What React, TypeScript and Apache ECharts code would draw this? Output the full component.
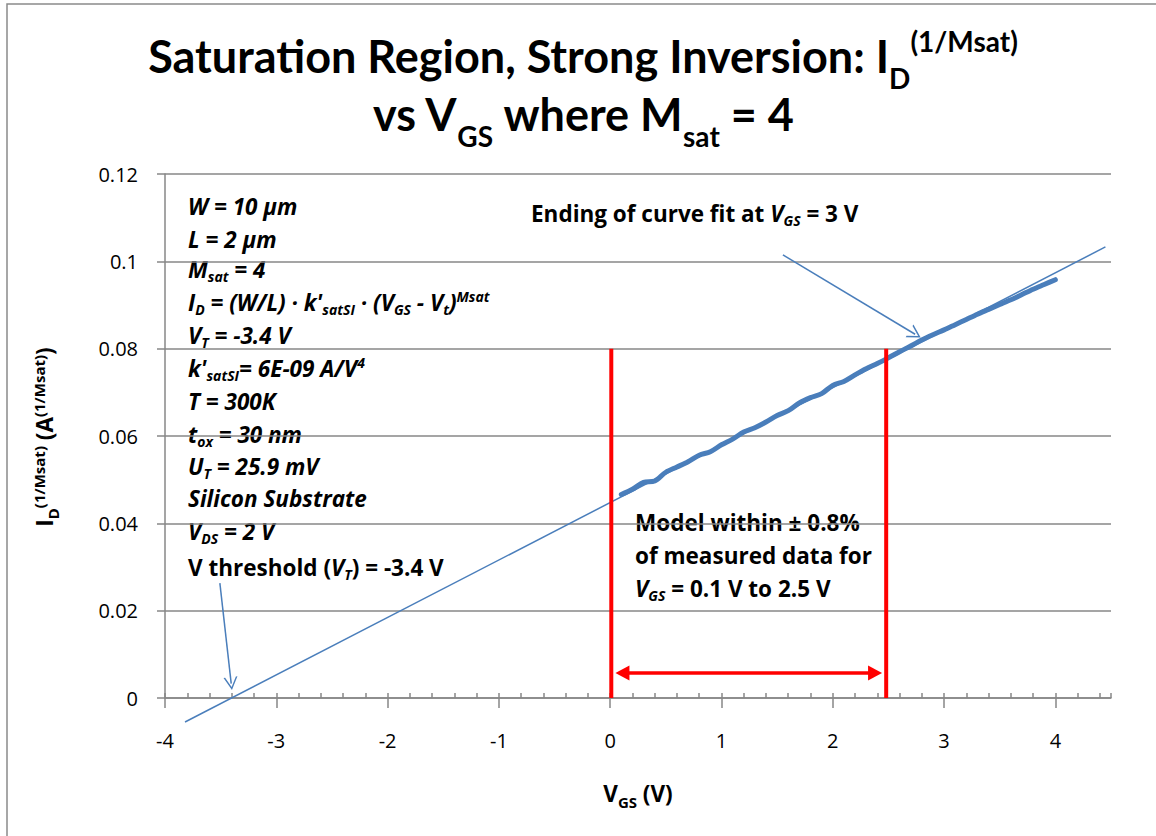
import React, { useEffect, useRef } from 'react';
import * as echarts from 'echarts';

// Measured I_D^(1/Msat) versus V_GS (saturation, strong inversion)
const vgsMeasured = [
  0.1, 0.2, 0.3, 0.4, 0.5, 0.6, 0.7, 0.8, 0.9, 1.0,
  1.1, 1.2, 1.3, 1.4, 1.5, 1.6, 1.7, 1.8, 1.9, 2.0,
  2.1, 2.2, 2.3, 2.4, 2.5, 2.6, 2.7, 2.8, 2.9, 3.0,
  3.1, 3.2, 3.3, 3.4, 3.5, 3.6, 3.7, 3.8, 3.9, 4.0,
];
const idRootMeasured = [
  0.0466, 0.0478, 0.0494, 0.0497, 0.0517, 0.0529, 0.0541, 0.0556, 0.0564, 0.058,
  0.0593, 0.0609, 0.0619, 0.0632, 0.0647, 0.0658, 0.0676, 0.0688, 0.0697, 0.0716,
  0.0725, 0.074, 0.0754, 0.0766, 0.0779, 0.0793, 0.0806, 0.082, 0.0832, 0.0843,
  0.0855, 0.0867, 0.0879, 0.089, 0.0901, 0.0912, 0.0924, 0.0936, 0.0947, 0.0958,
];

// Model line ((W/L)·k')^(1/4)·(V_GS - V_T), end points
const modelVgs = [-3.82, 4.45];
const modelId = [-0.0055, 0.1033];

// Bounds of the fitted V_GS range (red markers) and their height
const rangeBoundVgs = [0.01, 2.48];
const rangeBoundTop = 0.08;
// Double-headed arrow between the bounds
const rangeArrowVgs = [0.11, 2.38];
const rangeArrowId = 0.0057;

// Callout arrows: [start V_GS, start I, end V_GS, end I]
const thresholdArrow = [-3.507, 0.0263, -3.405, 0.0033];
const fitEndArrow = [1.552, 0.1015, 2.74, 0.0833];

// Axes
const xMin = -4;
const xMax = 4.5;
const xMajor = 1;
const xMinor = 0.2;
const yMin = 0;
const yMax = 0.12;
const yStep = 0.02;

const BLUE = '#4a7ebb';
const RED = '#ff0000';
const GRAY = '#878787';
const TITLE_FONT = 'Lato';
const TEXT_FONT = '"Open Sans"';

const openArrow = 'path://M0,0 L7,14 L5.4,14 L0,3.2 L-5.4,14 L-7,14 Z';

function richSet(family: string, size: number, sub: number, lh: number, subH: number, supH: number) {
  const base = { fontFamily: family, fontWeight: 'bold', fill: '#000' };
  return {
    n: { ...base, fontSize: size, lineHeight: lh },
    i: { ...base, fontSize: size, fontStyle: 'italic', lineHeight: lh },
    ns: { ...base, fontSize: sub, verticalAlign: 'bottom', height: subH },
    is: { ...base, fontSize: sub, fontStyle: 'italic', verticalAlign: 'bottom', height: subH },
    np: { ...base, fontSize: sub, verticalAlign: 'top', height: supH },
    ip: { ...base, fontSize: sub, fontStyle: 'italic', verticalAlign: 'top', height: supH },
  };
}

const titleRich = richSet(TITLE_FONT, 45, 28, 58, 14, 28);
const noteRich = richSet(TEXT_FONT, 22.5, 14, 26, 12, 15);
const axisTitleRich = richSet(TEXT_FONT, 22.5, 15, 28, 10, 17);

function label(x: number, y: number, text: string, rich: any, align = 'left', rotation = 0) {
  return {
    type: 'text',
    x,
    y,
    rotation,
    silent: true,
    style: {
      text,
      rich,
      fill: '#000',
      fontFamily: TEXT_FONT,
      fontWeight: 'bold',
      fontSize: 22.5,
      textAlign: align,
      textVerticalAlign: 'middle',
    },
  };
}

const paramLines: [number, string][] = [
  [206, '{i|W = 10 μm}'],
  [239, '{i|L = 2 μm}'],
  [269, '{i|M}{is|sat}{i| = 4}'],
  [302, "{i|I}{is|D}{i| = (W/L) · k'}{is|satSI}{i| · (V}{is|GS}{i| - V}{is|t}{i|)}{ip|Msat}"],
  [335, '{i|V}{is|T}{i| = -3.4 V}'],
  [368, "{i|k'}{is|satSI}{i|= 6E-09 A/V}{ip|4}"],
  [401, '{i|T = 300K}'],
  [434, '{i|t}{is|ox}{i| = 30 nm}'],
  [466, '{i|U}{is|T}{i| = 25.9 mV}'],
  [498, '{i|Silicon Substrate}'],
  [531, '{i|V}{is|DS}{i| = 2 V}'],
  [567, '{n|V threshold (}{i|V}{is|T}{n|) = -3.4 V}'],
];

export default function App() {
  const ref = useRef<HTMLDivElement>(null);

  useEffect(() => {
    if (!ref.current) return;
    const chart = echarts.init(ref.current, null, { renderer: 'svg' });

    const measured = vgsMeasured.map((v, k) => [v, idRootMeasured[k]]);
    const model = modelVgs.map((v, k) => [v, modelId[k]]);

    const graphics: any[] = [
      {
        type: 'rect',
        silent: true,
        shape: { x: 7, y: 4, width: 1200, height: 900 },
        style: { fill: 'none', stroke: '#8a8a8a', lineWidth: 1.5 },
      },
      label(583, 56, '{n|Saturation Region, Strong Inversion: I}{ns|D}{np|(1/Msat)}', titleRich, 'center'),
      label(583, 114, '{n|vs V}{ns|GS}{n| where M}{ns|sat}{n| = 4}', titleRich, 'center'),
      ...paramLines.map(([y, t]) => label(188, y, t, noteRich)),
      label(531, 213, '{n|Ending of curve fit at }{i|V}{is|GS}{n| = 3 V}', noteRich),
      label(635, 522, '{n|Model within ± 0.8%}', noteRich),
      label(635, 555, '{n|of measured data for}', noteRich),
      label(635, 588, '{i|V}{is|GS}{n| = 0.1 V to 2.5 V}', noteRich),
      label(638, 793, '{n|V}{ns|GS}{n| (V)}', axisTitleRich, 'center'),
      label(44, 437, '{n|I}{ns|D}{np|(1/Msat)}{n| (A}{np|(1/Msat)}{n|)}', axisTitleRich, 'center', Math.PI / 2),
    ];

    const boundSeries = rangeBoundVgs.map((v) => ({
      type: 'line',
      data: [[v, yMin], [v, rangeBoundTop]],
      symbol: 'none',
      silent: true,
      z: 5,
      lineStyle: { color: RED, width: 4 },
    }));

    chart.setOption({
      animation: false,
      backgroundColor: '#fff',
      grid: { left: 165, right: 45, top: 174, bottom: 138, containLabel: false },
      xAxis: [
        {
          type: 'value',
          min: xMin,
          max: xMax,
          interval: xMajor,
          position: 'bottom',
          axisLine: { show: true, onZero: false, lineStyle: { color: GRAY, width: 1.5 } },
          axisTick: { show: true, inside: false, length: 10, lineStyle: { color: GRAY, width: 1.5 } },
          axisLabel: {
            color: '#000',
            fontFamily: TEXT_FONT,
            fontSize: 20,
            margin: 32,
            showMaxLabel: false,
          },
          splitLine: { show: false },
        },
        {
          type: 'value',
          min: xMin,
          max: xMax,
          interval: xMinor,
          position: 'bottom',
          axisLine: { show: false, onZero: false },
          axisTick: { show: true, inside: true, length: 5, lineStyle: { color: GRAY, width: 1.5 } },
          axisLabel: { show: false },
          splitLine: { show: false },
        },
      ],
      yAxis: {
        type: 'value',
        min: yMin,
        max: yMax,
        interval: yStep,
        position: 'left',
        axisLine: { show: true, onZero: false, lineStyle: { color: GRAY, width: 1.5 } },
        axisTick: { show: true, inside: false, length: 8, lineStyle: { color: GRAY, width: 1.5 } },
        axisLabel: { color: '#000', fontFamily: TEXT_FONT, fontSize: 20, margin: 27 },
        splitLine: { show: true, lineStyle: { color: GRAY, width: 1.5 } },
      },
      graphic: graphics,
      series: [
        {
          name: 'Measured',
          type: 'line',
          data: measured,
          symbol: 'none',
          smooth: 0.3,
          silent: true,
          z: 3,
          lineStyle: { color: BLUE, width: 5, cap: 'round', join: 'round' },
        },
        {
          name: 'Model',
          type: 'line',
          data: model,
          symbol: 'none',
          clip: false,
          silent: true,
          z: 4,
          lineStyle: { color: BLUE, width: 1.5 },
        },
        ...boundSeries,
        {
          name: 'Annotations',
          type: 'line',
          data: [],
          silent: true,
          z: 6,
          markLine: {
            silent: true,
            animation: false,
            label: { show: false },
            emphasis: { disabled: true },
            symbol: ['none', 'none'],
            data: [
              [
                {
                  coord: [thresholdArrow[0], thresholdArrow[1]],
                  symbol: 'none',
                  lineStyle: { color: BLUE, width: 1.5, type: 'solid' },
                },
                { coord: [thresholdArrow[2], thresholdArrow[3]], symbol: openArrow, symbolSize: [14, 13] },
              ],
              [
                {
                  coord: [fitEndArrow[0], fitEndArrow[1]],
                  symbol: 'none',
                  lineStyle: { color: BLUE, width: 1.5, type: 'solid' },
                },
                { coord: [fitEndArrow[2], fitEndArrow[3]], symbol: openArrow, symbolSize: [15, 13] },
              ],
              [
                {
                  coord: [rangeArrowVgs[0], rangeArrowId],
                  symbol: 'triangle',
                  symbolSize: [15, 14],
                  lineStyle: { color: RED, width: 3.5, type: 'solid' },
                },
                { coord: [rangeArrowVgs[1], rangeArrowId], symbol: 'triangle', symbolSize: [15, 14] },
              ],
            ],
          },
        },
      ],
    });

    return () => chart.dispose();
  }, []);

  return (
    <div
      ref={ref}
      style={{ position: 'fixed', left: 0, top: 0, width: 1156, height: 836, background: '#fff' }}
    />
  );
}
